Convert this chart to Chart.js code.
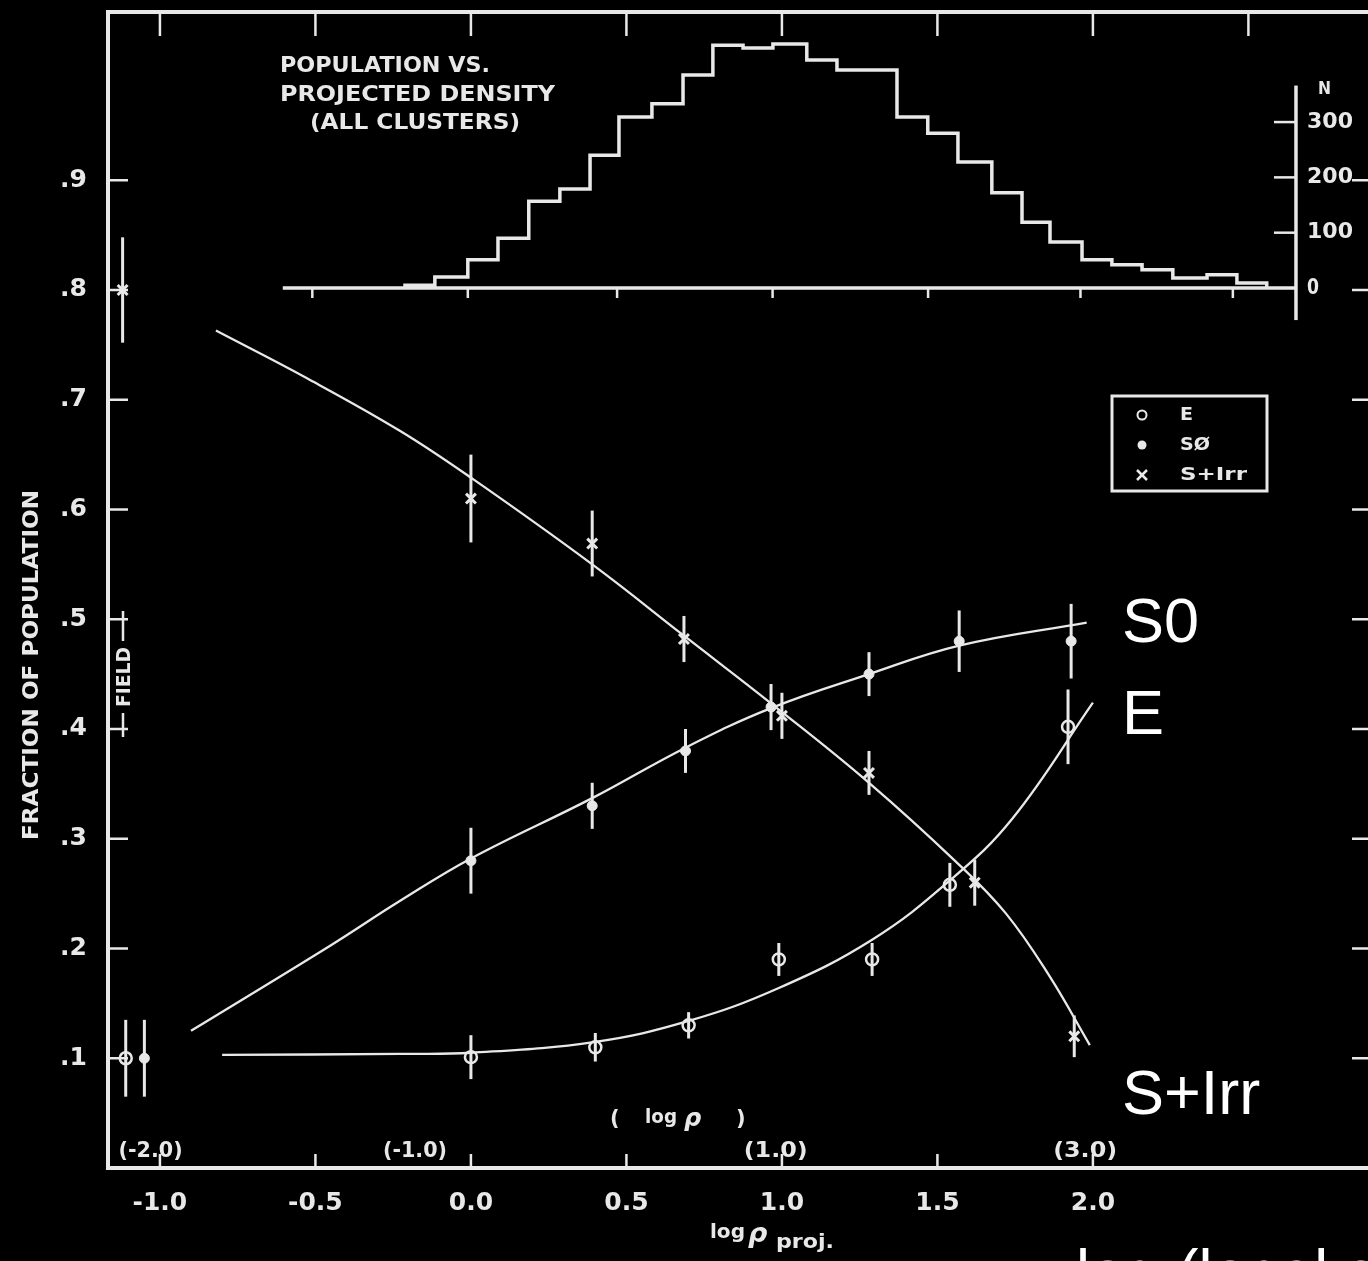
<!DOCTYPE html>
<html>
<head>
<meta charset="utf-8">
<script src="https://cdn.jsdelivr.net/npm/chart.js@4.4.1/dist/chart.umd.min.js"></script>
<style>
  html, body { margin: 0; padding: 0; background: #000; overflow: hidden; }
  #wrap { width: 1380px; height: 1261px; }
</style>
</head>
<body>
<div id="wrap"><canvas id="morph" width="1380" height="1261"></canvas></div>
<script>
// =========================
//  Morphology vs. projected density
// =========================

// ----- Axis ticks -----
const xTicks = [-1.0, -0.5, 0.0, 0.5, 1.0, 1.5, 2.0];
const yTicks = [0.1, 0.2, 0.3, 0.4, 0.5, 0.6, 0.7, 0.8, 0.9];
const topTicks = [-1.0, -0.5, 0.0, 0.5, 1.0, 1.5, 2.0, 2.5];
const rhoTicks = [-1.03, -0.18, 0.98, 1.975];          // where log rho lands on the log rho_proj axis
const rhoLabels = ["(-2.0)", "(-1.0)", "(1.0)", "(3.0)"];

// ----- Fractions (first entry of each = field sample) -----
const eX = [-1.11, 0.0, 0.40, 0.70, 0.99, 1.29, 1.54, 1.92];
const eY = [0.10, 0.101, 0.11, 0.13, 0.19, 0.19, 0.258, 0.402];
const eErr = [0.035, 0.02, 0.013, 0.012, 0.015, 0.015, 0.02, 0.034];

const s0X = [-1.05, 0.0, 0.39, 0.69, 0.965, 1.28, 1.57, 1.93];
const s0Y = [0.10, 0.28, 0.33, 0.38, 0.42, 0.45, 0.48, 0.48];
const s0Err = [0.035, 0.03, 0.021, 0.02, 0.021, 0.02, 0.028, 0.034];

const sirrX = [-1.12, 0.0, 0.39, 0.685, 1.0, 1.28, 1.62, 1.94];
const sirrY = [0.80, 0.61, 0.569, 0.482, 0.412, 0.36, 0.26, 0.12];
const sirrErr = [0.048, 0.04, 0.03, 0.021, 0.021, 0.02, 0.021, 0.019];

// ----- Hand-drawn trend curves -----
const eCurveX = [-0.80, -0.23, 0.0, 0.40, 0.70, 0.99, 1.29, 1.54, 1.74, 2.0];
const eCurveY = [0.103, 0.104, 0.105, 0.115, 0.134, 0.164, 0.208, 0.262, 0.318, 0.424];
const s0CurveX = [-0.90, -0.45, -0.23, 0.0, 0.39, 0.69, 0.965, 1.28, 1.57, 1.98];
const s0CurveY = [0.125, 0.203, 0.243, 0.282, 0.337, 0.383, 0.419, 0.45, 0.476, 0.497];
const sirrCurveX = [-0.82, -0.53, -0.23, 0.0, 0.39, 0.685, 0.98, 1.28, 1.56, 1.72, 1.86, 1.99];
const sirrCurveY = [0.763, 0.72, 0.672, 0.629, 0.55, 0.485, 0.42, 0.351, 0.279, 0.232, 0.175, 0.112];

// ----- Histogram: N galaxies per density bin -----
const binEdges = [-0.212, -0.116, -0.010, 0.087, 0.186, 0.286, 0.383, 0.476, 0.582, 0.682,
  0.778, 0.875, 0.971, 1.080, 1.177, 1.273, 1.370, 1.469, 1.566, 1.675, 1.772, 1.862,
  1.965, 2.061, 2.158, 2.257, 2.367, 2.463, 2.559];
const binCounts = [5, 20, 51, 90, 157, 179, 240, 309, 333, 385, 439, 434, 441, 412,
  394, 394, 309, 280, 228, 172, 119, 83, 51, 42, 33, 18, 24, 9];
const nTicks = [0, 100, 200, 300];
const hTicks = [-0.51, -0.01, 0.47, 0.97, 1.47, 1.96, 2.45];
const histFrom = -0.605;    // left end of histogram baseline
const nAxisAt = 2.653;      // x position of the N axis
const nAxisSpan = [-58, 366];

// ----- Look -----
const INK = "#e8e8e8";
const FONT = "'DejaVu Sans', sans-serif";
const ANNOT_FONT = "'Liberation Sans', Arial, sans-serif";

const pts = (xs, ys) => xs.map((v, i) => ({ x: v, y: ys[i] }));

const histPts = [{ x: binEdges[0], y: 0 }];
binCounts.forEach((n, i) => histPts.push({ x: binEdges[i], y: n }));
histPts.push({ x: binEdges[binEdges.length - 1], y: 0 });

const curve = (xs, ys) => ({
  data: pts(xs, ys),
  borderColor: INK,
  borderWidth: 2.3,
  pointRadius: 0,
  tension: 0.4,
  fill: false
});

// ----- Text helpers -----
function fitText(ctx, text, x, y, w, size, align = "left") {
  ctx.save();
  ctx.font = `bold ${size}px ${FONT}`;
  const k = w / ctx.measureText(text).width;
  ctx.translate(x, y);
  ctx.scale(k, 1);
  ctx.textAlign = align;
  ctx.textBaseline = "middle";
  ctx.fillText(text, 0, 0);
  ctx.restore();
}
function fitTextV(ctx, text, cx, cy, h, size) {
  ctx.save();
  ctx.translate(cx, cy);
  ctx.rotate(-Math.PI / 2);
  fitText(ctx, text, 0, 0, h, size, "center");
  ctx.restore();
}
function line(ctx, x1, y1, x2, y2) {
  ctx.beginPath();
  ctx.moveTo(x1, y1);
  ctx.lineTo(x2, y2);
  ctx.stroke();
}

// ----- Frame, ticks, error bars, labels -----
const figureDecor = {
  id: "figureDecor",
  afterDatasetsDraw(chart) {
    const { ctx, chartArea: a, scales: { x, y, yN } } = chart;
    ctx.save();
    ctx.strokeStyle = INK;
    ctx.fillStyle = INK;
    ctx.lineCap = "butt";

    // frame
    ctx.lineWidth = 4;
    ctx.strokeRect(a.left, a.top, a.right - a.left, a.bottom - a.top);

    // inward ticks
    ctx.lineWidth = 2.5;
    yTicks.forEach((v) => {
      const py = y.getPixelForValue(v);
      line(ctx, a.left, py, a.left + 20, py);
      line(ctx, a.right, py, a.right - 18, py);
    });
    xTicks.forEach((v) => {
      const px = x.getPixelForValue(v);
      line(ctx, px, a.bottom, px, a.bottom - 14);
    });
    topTicks.forEach((v) => {
      const px = x.getPixelForValue(v);
      line(ctx, px, a.top, px, a.top + 24);
    });

    // error bars
    ctx.lineWidth = 3;
    [[eX, eY, eErr], [s0X, s0Y, s0Err], [sirrX, sirrY, sirrErr]].forEach(([xs, ys, es]) => {
      xs.forEach((v, i) => {
        const px = x.getPixelForValue(v);
        line(ctx, px, y.getPixelForValue(ys[i] - es[i]), px, y.getPixelForValue(ys[i] + es[i]));
      });
    });

    // histogram baseline, its ticks and N axis
    const n0 = yN.getPixelForValue(0);
    const nx = x.getPixelForValue(nAxisAt);
    ctx.lineWidth = 3.5;
    line(ctx, x.getPixelForValue(histFrom), n0, nx, n0);
    line(ctx, nx, yN.getPixelForValue(nAxisSpan[0]), nx, yN.getPixelForValue(nAxisSpan[1]));
    ctx.lineWidth = 2.5;
    hTicks.forEach((v) => {
      const px = x.getPixelForValue(v);
      line(ctx, px, n0, px, n0 + 10);
    });
    nTicks.forEach((v) => {
      const py = yN.getPixelForValue(v);
      if (v > 0) line(ctx, nx - 22, py, nx, py);
      fitText(ctx, String(v), nx + 11, py, v > 0 ? 46 : 12, 22);
    });
    fitText(ctx, "N", nx + 22, yN.getPixelForValue(nAxisSpan[1]) + 4, 13, 17);

    // histogram caption
    fitText(ctx, "POPULATION VS.", 280, 66, 210, 22);
    fitText(ctx, "PROJECTED DENSITY", 280, 95, 275, 22);
    fitText(ctx, "(ALL CLUSTERS)", 310, 123, 210, 22);

    // secondary log rho labels along the bottom
    rhoTicks.forEach((v, i) => {
      fitText(ctx, rhoLabels[i], x.getPixelForValue(v), 1152, 64, 21, "center");
    });
    ctx.font = `bold 21px ${FONT}`;
    ctx.textBaseline = "middle";
    ctx.textAlign = "left";
    ctx.fillText("(", 610, 1120);
    ctx.fillText(")", 736, 1120);
    fitText(ctx, "log", 645, 1118, 32, 19);
    ctx.font = `italic bold 24px ${FONT}`;
    ctx.fillText("ρ", 684, 1120);

    // axis titles
    fitText(ctx, "log", 710, 1233, 35, 20);
    ctx.font = `italic bold 27px ${FONT}`;
    ctx.fillText("ρ", 748, 1235);
    fitText(ctx, "proj.", 776, 1243, 58, 19);
    fitTextV(ctx, "FRACTION OF POPULATION", 32, 665, 350, 22);

    // field bracket
    fitTextV(ctx, "FIELD", 125, 677, 60, 20);
    ctx.lineWidth = 2.5;
    line(ctx, 123, 611, 123, 641);
    line(ctx, 123, 713, 123, 737);

    // legend
    ctx.lineWidth = 3;
    ctx.strokeRect(1112, 396, 155, 95);
    ctx.lineWidth = 2;
    ctx.beginPath();
    ctx.arc(1142, 415, 4.5, 0, Math.PI * 2);
    ctx.stroke();
    ctx.beginPath();
    ctx.arc(1142, 445, 4.5, 0, Math.PI * 2);
    ctx.fill();
    ctx.lineWidth = 2.5;
    line(ctx, 1137, 470, 1147, 480);
    line(ctx, 1137, 480, 1147, 470);
    fitText(ctx, "E", 1180, 415, 13, 18);
    fitText(ctx, "SØ", 1180, 445, 30, 18);
    fitText(ctx, "S+Irr", 1180, 475, 67, 18);

    // type labels at the curve ends
    ctx.fillStyle = "#fff";
    ctx.font = `63px ${ANNOT_FONT}`;
    ctx.textAlign = "left";
    ctx.textBaseline = "alphabetic";
    ctx.fillText("S0", 1122, 642);
    ctx.fillText("E", 1122, 734);
    ctx.fillText("S+Irr", 1122, 1114);
    ctx.fillText("log (local density)", 1076, 1294);
    ctx.restore();
  }
};

// ----- Chart -----
new Chart(document.getElementById("morph"), {
  type: "line",
  data: {
    datasets: [
      curve(eCurveX, eCurveY),
      curve(s0CurveX, s0CurveY),
      curve(sirrCurveX, sirrCurveY),
      {
        label: "N",
        data: histPts,
        yAxisID: "yN",
        stepped: true,
        borderColor: INK,
        borderWidth: 3.5,
        pointRadius: 0,
        fill: false
      },
      {
        label: "E",
        data: pts(eX, eY),
        showLine: false,
        pointStyle: "circle",
        pointRadius: 6,
        pointBackgroundColor: "#000",
        pointBorderColor: INK,
        pointBorderWidth: 2.5
      },
      {
        label: "S0",
        data: pts(s0X, s0Y),
        showLine: false,
        pointStyle: "circle",
        pointRadius: 5,
        pointBackgroundColor: INK,
        pointBorderColor: INK,
        pointBorderWidth: 1
      },
      {
        label: "S+Irr",
        data: pts(sirrX, sirrY),
        showLine: false,
        pointStyle: "crossRot",
        pointRadius: 7,
        pointBorderColor: INK,
        pointBorderWidth: 3
      }
    ]
  },
  options: {
    responsive: false,
    animation: false,
    layout: { padding: { top: 12, right: 10, left: 0, bottom: 0 } },
    plugins: { legend: { display: false }, tooltip: { enabled: false } },
    scales: {
      x: {
        type: "linear",
        min: -1.167,
        max: 2.891,
        afterBuildTicks: (s) => { s.ticks = xTicks.map((v) => ({ value: v })); },
        afterFit: (s) => { s.height = 93; s.paddingLeft = 0; s.paddingRight = 0; },
        ticks: {
          color: INK,
          padding: 12,
          maxRotation: 0,
          font: { family: FONT, weight: "bold", size: 25 },
          callback: (v) => Number(v).toFixed(1)
        },
        grid: { display: false },
        border: { display: false }
      },
      y: {
        type: "linear",
        min: 0,
        max: 1.0533,
        afterBuildTicks: (s) => { s.ticks = yTicks.map((v) => ({ value: v })); },
        afterFit: (s) => { s.width = 108; s.paddingTop = 0; s.paddingBottom = 0; },
        ticks: {
          color: INK,
          padding: 13,
          font: { family: FONT, weight: "bold", size: 25 },
          callback: (v) => "." + Math.round(v * 10)
        },
        grid: { display: false },
        border: { display: false }
      },
      yN: {
        type: "linear",
        display: false,
        min: -1591,
        max: 499
      }
    }
  },
  plugins: [figureDecor]
});
</script>
</body>
</html>
